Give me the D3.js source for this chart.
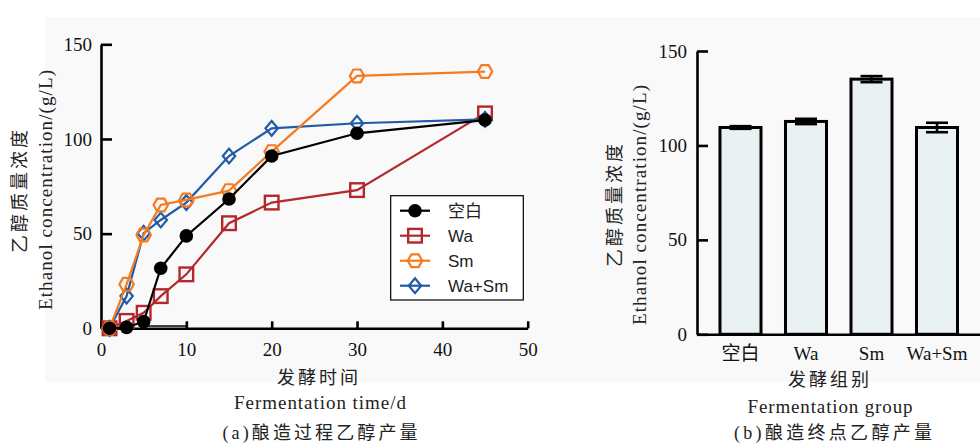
<!DOCTYPE html>
<html><head><meta charset="utf-8">
<script src="https://cdn.jsdelivr.net/npm/d3@7"></script>
<style>
html,body{margin:0;padding:0;background:#fff;}
svg{display:block;}
</style></head>
<body>
<svg id="chart" width="980" height="443"></svg>
<script>
// ---------- DATA ----------
const days = [1, 3, 5, 7, 10, 15, 20, 30, 45];
const blankValues = [0, 0.5, 3.5, 31.7, 48.8, 68.3, 91, 103, 110];
const waValues = [0, 3.9, 8.2, 17, 28.5, 55.5, 66.4, 73, 113.5];
const smValues = [0, 23.2, 49.3, 65.1, 67.8, 72.7, 93.3, 133.3, 135.6];
const waSmValues = [0, 17, 50.2, 57.2, 66.4, 91, 105.6, 108.3, 110.4];
const seriesNames = ["空白", "Wa", "Sm", "Wa+Sm"];
const strayTraceX = [5.2, 10];
const strayTraceY = [1.2, 1.2];
const xTicks = [0, 10, 20, 30, 40, 50];
const yTicks = [0, 50, 100, 150];
const groups = ["空白", "Wa", "Sm", "Wa+Sm"];
const groupMeans = [109.5, 112.7, 135.1, 109.5];
const groupErrors = [0.7, 1.4, 1.6, 2.5];

// ---------- SETUP ----------
const svg = d3.select("#chart");
const serif = "'Liberation Serif','Noto Sans CJK SC',serif";
const sans = "'Liberation Sans','Noto Sans CJK SC',sans-serif";
const colors = {"空白": "#000000", "Wa": "#b3282d", "Sm": "#f47b20", "Wa+Sm": "#1f5ba6"};

svg.append("rect").attr("x", 45).attr("y", 17).attr("width", 935).attr("height", 365).attr("fill", "#f9f9f9");

// ---------- LEFT CHART ----------
const x = d3.scaleLinear().domain([0, 50]).range([101, 527.7]);
const y = d3.scaleLinear().domain([0, 150]).range([328.3, 44.3]);

function styleAxis(g) {
  g.select(".domain").attr("stroke", "#000").attr("stroke-width", 2.6);
  g.selectAll(".tick line").attr("stroke", "#000").attr("stroke-width", 2.6);
  g.selectAll("text").attr("font-family", serif).attr("font-size", 19).attr("fill", "#111");
}

svg.append("g").attr("transform", "translate(0,328.3)")
  .call(d3.axisBottom(x).tickValues(xTicks).tickSize(-7).tickSizeOuter(0).tickPadding(14))
  .call(styleAxis);
svg.append("g").attr("transform", "translate(101,0)")
  .call(d3.axisLeft(y).tickValues(yTicks).tickSize(-11).tickSizeOuter(0).tickPadding(9))
  .call(styleAxis);

const seriesData = [
  {name: "Wa", values: waValues, shape: "square"},
  {name: "Wa+Sm", values: waSmValues, shape: "diamond"},
  {name: "Sm", values: smValues, shape: "hexagon"},
  {name: "空白", values: blankValues, shape: "circle"}
];

function drawMarker(g, shape, color, cx, cy) {
  if (shape === "circle") {
    g.append("circle").attr("cx", cx).attr("cy", cy).attr("r", 6.8).attr("fill", color);
  } else if (shape === "square") {
    g.append("rect").attr("x", cx - 6.8).attr("y", cy - 6.8).attr("width", 13.6).attr("height", 13.6)
      .attr("fill", "none").attr("stroke", color).attr("stroke-width", 2.4);
  } else if (shape === "hexagon") {
    const w = 7.2, h = 6.4;
    const pts = [[cx - w, cy], [cx - w / 2, cy - h], [cx + w / 2, cy - h], [cx + w, cy], [cx + w / 2, cy + h], [cx - w / 2, cy + h]];
    g.append("polygon").attr("points", pts.map(p => p.join(",")).join(" "))
      .attr("fill", "none").attr("stroke", color).attr("stroke-width", 2.2);
  } else if (shape === "diamond") {
    const w = 6.2, h = 7.4;
    const pts = [[cx, cy - h], [cx + w, cy], [cx, cy + h], [cx - w, cy]];
    g.append("polygon").attr("points", pts.map(p => p.join(",")).join(" "))
      .attr("fill", "none").attr("stroke", color).attr("stroke-width", 2.2);
  }
}

const line = d3.line().x(d => x(d[0])).y(d => y(d[1]));
const plot = svg.append("g");
seriesData.forEach(s => {
  const pts = days.map((d, i) => [d, s.values[i]]);
  const g = plot.append("g");
  g.append("path").datum(pts).attr("d", line).attr("fill", "none")
    .attr("stroke", colors[s.name]).attr("stroke-width", 2.2);
  pts.forEach(p => drawMarker(g, s.shape, colors[s.name], x(p[0]), y(p[1])));
});
plot.append("path").datum(strayTraceX.map((d, i) => [d, strayTraceY[i]])).attr("d", line)
  .attr("fill", "none").attr("stroke", "#000").attr("stroke-width", 1.5);

// Legend
const legend = svg.append("g");
legend.append("rect").attr("x", 390.7).attr("y", 195.7).attr("width", 132.6).attr("height", 104.3)
  .attr("fill", "#fff").attr("stroke", "#000").attr("stroke-width", 1.2);
const legendOrder = [
  {name: "空白", shape: "circle"}, {name: "Wa", shape: "square"},
  {name: "Sm", shape: "hexagon"}, {name: "Wa+Sm", shape: "diamond"}
];
legendOrder.forEach((s, i) => {
  const ly = 210.7 + i * 25;
  const g = legend.append("g");
  g.append("line").attr("x1", 400).attr("x2", 430).attr("y1", ly).attr("y2", ly)
    .attr("stroke", colors[s.name]).attr("stroke-width", 2.2);
  drawMarker(g, s.shape, colors[s.name], 415, ly);
  g.append("text").attr("x", 448).attr("y", ly).attr("dy", "0.36em")
    .attr("font-family", sans).attr("font-size", 17).attr("fill", "#222").text(s.name);
});

// Left labels
svg.append("text").attr("transform", "translate(26,190) rotate(-90)").attr("text-anchor", "middle")
  .attr("font-family", serif).attr("font-size", 18).attr("letter-spacing", 3).attr("fill", "#222")
  .text("乙醇质量浓度");
svg.append("text").attr("transform", "translate(52,190) rotate(-90)").attr("text-anchor", "middle")
  .attr("font-family", serif).attr("font-size", 19).attr("fill", "#222")
  .attr("textLength", 240).attr("lengthAdjust", "spacing")
  .text("Ethanol  concentration/(g/L)");
svg.append("text").attr("x", 319).attr("y", 378).attr("dy", "0.36em").attr("text-anchor", "middle")
  .attr("font-family", serif).attr("font-size", 18).attr("letter-spacing", 3).attr("fill", "#222").text("发酵时间");
svg.append("text").attr("x", 320).attr("y", 403).attr("dy", "0.33em").attr("text-anchor", "middle")
  .attr("font-family", serif).attr("font-size", 19).attr("fill", "#222")
  .attr("textLength", 172).attr("lengthAdjust", "spacing").text("Fermentation  time/d");
svg.append("text").attr("x", 320).attr("y", 433).attr("dy", "0.36em").attr("text-anchor", "middle")
  .attr("font-family", serif).attr("font-size", 18).attr("fill", "#222")
  .attr("textLength", 195).attr("lengthAdjust", "spacing").text("(a)酿造过程乙醇产量");

// ---------- RIGHT CHART ----------
const xb = d3.scaleBand().domain(groups).range([697, 980.5]).paddingInner(0.374).paddingOuter(0.351);
const yb = d3.scaleLinear().domain([0, 150]).range([334.3, 51]);

const bars = svg.append("g");
groups.forEach((gName, i) => {
  const v = groupMeans[i], e = groupErrors[i];
  const cx = xb(gName) + xb.bandwidth() / 2;
  bars.append("rect").attr("x", xb(gName)).attr("y", yb(v)).attr("width", xb.bandwidth())
    .attr("height", yb(0) - yb(v)).attr("fill", "#e9f1f3").attr("stroke", "#000").attr("stroke-width", 3);
  bars.append("line").attr("x1", cx).attr("x2", cx).attr("y1", yb(v - e)).attr("y2", yb(v + e))
    .attr("stroke", "#000").attr("stroke-width", 2.6);
  [v - e, v + e].forEach(t => {
    bars.append("line").attr("x1", cx - 11).attr("x2", cx + 11).attr("y1", yb(t)).attr("y2", yb(t))
      .attr("stroke", "#000").attr("stroke-width", 2.6);
  });
});

svg.append("g").attr("transform", "translate(0,334.3)")
  .call(d3.axisBottom(xb).tickSize(0).tickSizeOuter(0).tickPadding(12))
  .call(styleAxis);
svg.append("g").attr("transform", "translate(697,0)")
  .call(d3.axisLeft(yb).tickValues(yTicks).tickSize(-11).tickSizeOuter(0).tickPadding(10))
  .call(styleAxis);

svg.append("text").attr("transform", "translate(621,204) rotate(-90)").attr("text-anchor", "middle")
  .attr("font-family", serif).attr("font-size", 18).attr("letter-spacing", 3).attr("fill", "#222")
  .text("乙醇质量浓度");
svg.append("text").attr("transform", "translate(646,205) rotate(-90)").attr("text-anchor", "middle")
  .attr("font-family", serif).attr("font-size", 19).attr("fill", "#222")
  .attr("textLength", 240).attr("lengthAdjust", "spacing")
  .text("Ethanol  concentration/(g/L)");
svg.append("text").attr("x", 830).attr("y", 380).attr("dy", "0.36em").attr("text-anchor", "middle")
  .attr("font-family", serif).attr("font-size", 18).attr("letter-spacing", 3).attr("fill", "#222").text("发酵组别");
svg.append("text").attr("x", 830).attr("y", 407).attr("dy", "0.33em").attr("text-anchor", "middle")
  .attr("font-family", serif).attr("font-size", 19).attr("fill", "#222")
  .attr("textLength", 165).attr("lengthAdjust", "spacing").text("Fermentation  group");
svg.append("text").attr("x", 833).attr("y", 433).attr("dy", "0.36em").attr("text-anchor", "middle")
  .attr("font-family", serif).attr("font-size", 18).attr("fill", "#222")
  .attr("textLength", 198).attr("lengthAdjust", "spacing").text("(b)酿造终点乙醇产量");
</script>
</body></html>
